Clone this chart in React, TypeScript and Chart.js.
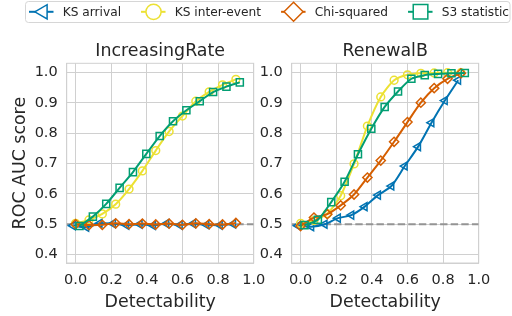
import React, { useEffect, useRef } from 'react';
import { Chart, registerables } from 'chart.js';

Chart.register(...registerables);

// ---------------- data ----------------
const detectability = [0, 0.075, 0.15, 0.225, 0.3, 0.375, 0.45, 0.525, 0.6, 0.675, 0.75, 0.825, 0.9];
const seriesNames = ['KS arrival', 'KS inter-event', 'Chi-squared', 'S3 statistic'];
const panelTitles = ['IncreasingRate', 'RenewalB'];
const xTickValues = [0, 0.2, 0.4, 0.6, 0.8, 1.0];
const yTickValues = [0.4, 0.5, 0.6, 0.7, 0.8, 0.9, 1.0];
const chanceLevel = 0.5;

const incKsArrival = [0.495, 0.49, 0.503, 0.502, 0.497, 0.5, 0.496, 0.502, 0.497, 0.502, 0.498, 0.497, 0.501];
const incKsInter = [0.503, 0.514, 0.534, 0.566, 0.616, 0.676, 0.743, 0.806, 0.857, 0.906, 0.937, 0.96, 0.978];
const incChi = [0.5, 0.497, 0.498, 0.503, 0.5, 0.502, 0.499, 0.502, 0.498, 0.503, 0.5, 0.499, 0.504];
const incS3 = [0.494, 0.525, 0.567, 0.62, 0.672, 0.732, 0.791, 0.84, 0.876, 0.906, 0.936, 0.954, 0.968];

const renKsArrival = [0.495, 0.492, 0.5, 0.52, 0.53, 0.558, 0.596, 0.626, 0.692, 0.756, 0.835, 0.908, 0.975];
const renKsInter = [0.503, 0.512, 0.535, 0.594, 0.699, 0.824, 0.92, 0.975, 0.993, 0.998, 0.999, 1.0, 1.0];
const renChi = [0.494, 0.522, 0.533, 0.562, 0.598, 0.654, 0.71, 0.772, 0.837, 0.901, 0.949, 0.98, 0.998];
const renS3 = [0.497, 0.515, 0.573, 0.64, 0.731, 0.815, 0.887, 0.938, 0.98, 0.992, 0.996, 0.998, 0.999];

// ---------------- styles ----------------
const FONT = '"DejaVu Sans", Verdana, sans-serif';
const TEXT = '#262626';
const GRID = '#d0d0d0';
const W = 512;
const H = 316;
const colors = ['#0173b2', '#ece133', '#d55e00', '#029e73'];
const styles = [
  { pointStyle: 'triangle', rotation: -90, radius: 4.6, dodge: -0.015, order: 4 },
  { pointStyle: 'circle', rotation: 0, radius: 3.9, dodge: 0, order: 3 },
  { pointStyle: 'rectRot', rotation: 0, radius: 4.6, dodge: 0, order: 2 },
  { pointStyle: 'rect', rotation: 0, radius: 5, dodge: 0.022, order: 1 },
];

// chart-area placement of each panel (layout)
const panels = [
  { left: 66.7, right: 253.7, top: 63.3, bottom: 263, series: [incKsArrival, incKsInter, incChi, incS3], yTitle: true, legend: true },
  { left: 291.7, right: 478.7, top: 63.3, bottom: 263, series: [renKsArrival, renKsInter, renChi, renS3], yTitle: false, legend: false },
];

function drawLegendMarker(ctx: CanvasRenderingContext2D, kind: number, x: number, y: number) {
  ctx.beginPath();
  if (kind === 0) {
    const r = 8.2;
    for (let k = 0; k < 3; k++) {
      const a = -Math.PI / 2 + (k * 2 * Math.PI) / 3;
      const px = x + Math.sin(a) * r;
      const py = y - Math.cos(a) * r;
      if (k === 0) ctx.moveTo(px, py);
      else ctx.lineTo(px, py);
    }
    ctx.closePath();
  } else if (kind === 1) {
    ctx.arc(x, y, 7.6, 0, Math.PI * 2);
  } else if (kind === 2) {
    const r = 9.5;
    ctx.moveTo(x, y - r);
    ctx.lineTo(x + r, y);
    ctx.lineTo(x, y + r);
    ctx.lineTo(x - r, y);
    ctx.closePath();
  } else {
    const s = 7.3;
    ctx.rect(x - s, y - s, 2 * s, 2 * s);
  }
  ctx.fillStyle = '#ffffff';
  ctx.fill();
  ctx.stroke();
}

function makeConfig(p: number): any {
  const panel = panels[p];
  const datasets: any[] = panel.series.map((vals, s) => ({
    label: seriesNames[s],
    data: detectability.map((d, i) => ({ x: d + styles[s].dodge, y: vals[i] })),
    borderColor: colors[s],
    backgroundColor: 'rgba(255,255,255,0)',
    borderWidth: 2,
    pointStyle: styles[s].pointStyle,
    pointRotation: styles[s].rotation,
    pointRadius: styles[s].radius,
    pointBorderWidth: 1.5,
    pointBorderColor: colors[s],
    pointBackgroundColor: 'rgba(255,255,255,0)',
    tension: 0.25,
    order: styles[s].order,
    clip: false,
  }));
  datasets.push({
    label: 'chance',
    data: [{ x: -0.05, y: chanceLevel }, { x: 1.0, y: chanceLevel }],
    borderColor: '#949494',
    borderWidth: 2,
    borderDash: [7.4, 3.2],
    pointRadius: 0,
    order: 10,
  });

  const framePlugin = {
    id: 'frame' + p,
    beforeDatasetsDraw(chart: any) {
      const { ctx, chartArea: a } = chart;
      ctx.save();
      ctx.strokeStyle = GRID;
      ctx.lineWidth = 1;
      ctx.strokeRect(a.left, a.top, a.right - a.left, a.bottom - a.top);
      ctx.restore();
    },
    afterDraw(chart: any) {
      const { ctx, chartArea: a } = chart;
      ctx.save();
      ctx.fillStyle = TEXT;
      ctx.font = `17.4px ${FONT}`;
      ctx.textAlign = 'center';
      ctx.textBaseline = 'alphabetic';
      const cx = (a.left + a.right) / 2;
      ctx.fillText(panelTitles[p], cx, 56);
      ctx.fillText('Detectability', cx, 306.5);
      if (panel.yTitle) {
        ctx.save();
        ctx.translate(25, (a.top + a.bottom) / 2);
        ctx.rotate(-Math.PI / 2);
        ctx.fillText('ROC AUC score', 0, 0);
        ctx.restore();
      }
      if (panel.legend) {
        // legend box
        const bx = 25.5, by = 1.5, bw = 484.5, bh = 21, rr = 3;
        ctx.beginPath();
        ctx.moveTo(bx + rr, by);
        ctx.lineTo(bx + bw - rr, by);
        ctx.quadraticCurveTo(bx + bw, by, bx + bw, by + rr);
        ctx.lineTo(bx + bw, by + bh - rr);
        ctx.quadraticCurveTo(bx + bw, by + bh, bx + bw - rr, by + bh);
        ctx.lineTo(bx + rr, by + bh);
        ctx.quadraticCurveTo(bx, by + bh, bx, by + bh - rr);
        ctx.lineTo(bx, by + rr);
        ctx.quadraticCurveTo(bx, by, bx + rr, by);
        ctx.closePath();
        ctx.fillStyle = 'rgba(255,255,255,0.9)';
        ctx.fill();
        ctx.strokeStyle = '#d6d6d6';
        ctx.lineWidth = 1;
        ctx.stroke();

        ctx.font = `12.2px ${FONT}`;
        ctx.textAlign = 'left';
        let x = 29;
        const y = 11.8;
        for (let s = 0; s < seriesNames.length; s++) {
          ctx.strokeStyle = colors[s];
          ctx.lineWidth = 2;
          ctx.beginPath();
          ctx.moveTo(x, y);
          ctx.lineTo(x + 24.5, y);
          ctx.stroke();
          ctx.lineWidth = 1.5;
          drawLegendMarker(ctx, s, x + 12.5 + (s === 0 ? 1.5 : 0), y);
          ctx.fillStyle = TEXT;
          const tx = x + 33.7;
          ctx.fillText(seriesNames[s], tx, 16.2);
          x = tx + ctx.measureText(seriesNames[s]).width + 20;
        }
      }
      ctx.restore();
    },
  };

  return {
    type: 'line',
    data: { datasets },
    plugins: [framePlugin],
    options: {
      animation: false,
      responsive: false,
      devicePixelRatio: 1,
      events: [],
      layout: {
        padding: {
          left: p === 0 ? 0 : 250,
          right: W - panel.right,
          top: panel.top,
          bottom: 0,
        },
      },
      plugins: { legend: { display: false }, tooltip: { enabled: false }, title: { display: false } },
      scales: {
        x: {
          type: 'linear',
          min: -0.05,
          max: 1.0,
          afterFit(scale: any) {
            scale.height = H - panel.bottom;
          },
          afterBuildTicks(scale: any) {
            scale.ticks = xTickValues.map((v) => ({ value: v }));
          },
          grid: { color: GRID, lineWidth: 1, drawTicks: false },
          border: { display: true, color: GRID },
          ticks: {
            color: TEXT,
            font: { family: FONT, size: 14.5 },
            padding: 9,
            maxRotation: 0,
            autoSkip: false,
            callback: (v: number) => Number(v).toFixed(1),
          },
        },
        y: {
          type: 'linear',
          min: 0.372,
          max: 1.031,
          afterFit(scale: any) {
            scale.width = panel.left - (p === 0 ? 0 : 250);
          },
          afterBuildTicks(scale: any) {
            scale.ticks = yTickValues.map((v) => ({ value: v }));
          },
          grid: { color: GRID, lineWidth: 1, drawTicks: false },
          border: { display: true, color: GRID },
          ticks: {
            color: TEXT,
            font: { family: FONT, size: 14.5 },
            padding: 9,
            autoSkip: false,
            callback: (v: number) => Number(v).toFixed(1),
          },
        },
      },
    },
  };
}

function Panel({ index }: { index: number }) {
  const ref = useRef<HTMLCanvasElement>(null);
  useEffect(() => {
    if (!ref.current) return;
    const chart = new Chart(ref.current, makeConfig(index));
    return () => chart.destroy();
  }, [index]);
  return (
    <canvas
      ref={ref}
      width={W}
      height={H}
      style={{ position: 'absolute', left: 0, top: 0, width: W, height: H }}
    />
  );
}

export default function App() {
  return (
    <div style={{ position: 'fixed', left: 0, top: 0, width: W, height: H, background: '#ffffff', overflow: 'hidden' }}>
      <Panel index={0} />
      <Panel index={1} />
    </div>
  );
}
